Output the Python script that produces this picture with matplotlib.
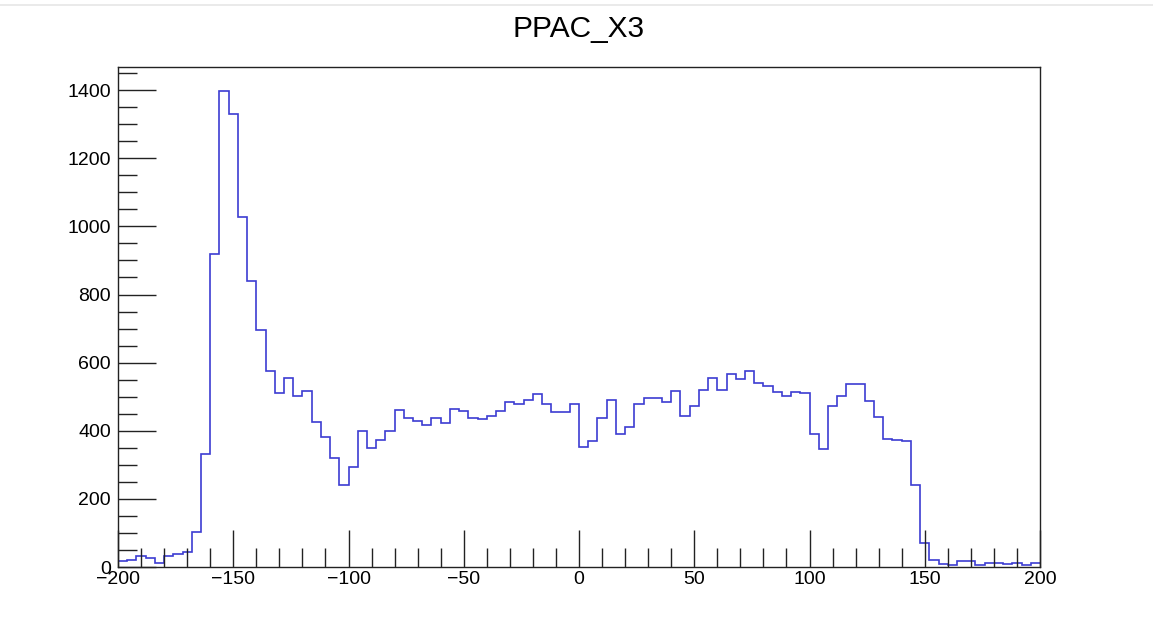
import numpy as np
import matplotlib
matplotlib.use("Agg")
import matplotlib.pyplot as plt
from matplotlib.ticker import MultipleLocator
from matplotlib.lines import Line2D

title = "PPAC_X3"
x_min, x_max, n_bins = -200, 200, 100
counts = [18, 21, 31, 25, 12, 31, 37, 45, 103, 331,
          919, 1398, 1331, 1027, 839, 697, 574, 511, 555, 502,
          518, 425, 383, 319, 242, 293, 398, 350, 373, 399,
          462, 437, 430, 416, 437, 423, 464, 458, 437, 434,
          442, 459, 484, 479, 491, 507, 480, 455, 455, 479,
          353, 370, 437, 489, 391, 411, 479, 496, 496, 483,
          516, 442, 472, 519, 555, 519, 567, 553, 576, 540,
          532, 515, 501, 513, 511, 390, 347, 474, 501, 536,
          538, 486, 439, 377, 374, 369, 242, 71, 22, 10,
          6, 17, 17, 6, 13, 12, 10, 13, 7, 11]
x_ticks = [-200, -150, -100, -50, 0, 50, 100, 150, 200]
y_ticks = [0, 200, 400, 600, 800, 1000, 1200, 1400]

plt.rcParams['font.family'] = ['Liberation Sans', 'DejaVu Sans']

W, H = 1153, 628
fig = plt.figure(figsize=(W / 100, H / 100), dpi=100)
ax = fig.add_axes([118 / W, 1 - 567 / H, (1040 - 118) / W, (567 - 67) / H])

edges = np.linspace(x_min, x_max, n_bins + 1)
ax.stairs(counts, edges, baseline=None, color='#3c3cd2', linewidth=1.2)

ax.set_xlim(x_min, x_max)
ax.set_ylim(0, 1.05 * max(counts))
ax.set_xticks(x_ticks)
ax.set_yticks(y_ticks)
ax.xaxis.set_minor_locator(MultipleLocator(10))
ax.yaxis.set_minor_locator(MultipleLocator(50))
ax.tick_params(which='major', direction='in', length=27, width=1, labelsize=14,
               top=False, right=False, color='#222222')
ax.tick_params(which='minor', direction='in', length=14, width=1,
               top=False, right=False, color='#222222')
ax.tick_params(axis='y', pad=5)
ax.tick_params(axis='x', pad=3)
for s in ax.spines.values():
    s.set_linewidth(1.0)
    s.set_color('#222222')

fig.text(579 / W, 1 - 29 / H, title, ha='center', va='center', fontsize=21.5)
fig.add_artist(Line2D([0, 1], [1 - 5 / H, 1 - 5 / H], color='#e6e6e6', linewidth=1.2,
                      transform=fig.transFigure))

fig.savefig("out.png", dpi=100, facecolor='white')
